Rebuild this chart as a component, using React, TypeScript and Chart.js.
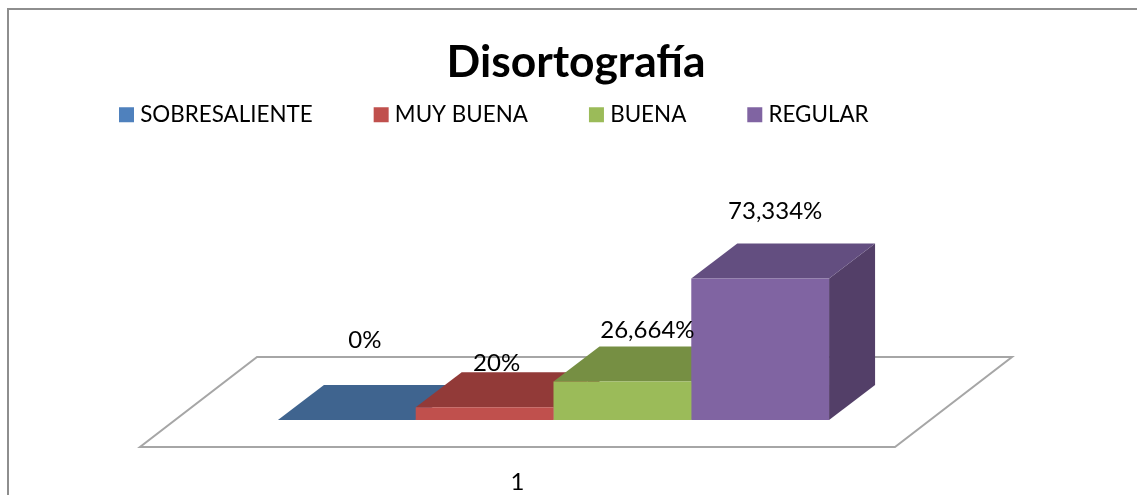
import React, { useEffect, useRef } from "react";
import { Chart, registerables } from "chart.js";

Chart.register(...registerables);

const categories = ["1"];
const seriesNames = ["SOBRESALIENTE", "MUY BUENA", "BUENA", "REGULAR"];
const seriesValues = [0, 6.667, 20, 73.334];
const valueLabels = ["0%", "20%", "26,664%", "73,334%"];
const titleText = "Disortografía";

const frontColors = ["#4F81BD", "#C0504D", "#9BBB59", "#8064A2"];
const topColors = ["#3F648F", "#923A38", "#768F43", "#634E80"];
const sideColors = ["#365678", "#7C302E", "#637939", "#533F68"];
const labelOffsets = [
  [18, -80],
  [12, -44],
  [25, -51],
  [15, -67],
];

const FONT = "Lato, Carlito, sans-serif";
const SHIFT = { x: 36, y: -27 };
const DEPTH = { x: 46, y: -35 };
const FLOOR = { x: 117, y: -90 };

const scene = {
  id: "scene",
  afterLayout(chart: any) {
    const t = chart.titleBlock;
    t.left = 0; t.right = 1152; t.top = 36; t.bottom = t.top + t.height;
    const l = chart.legend;
    const h = l.height;
    l.left = 58; l.right = 1137; l.top = 37.5; l.bottom = l.top + h;
  },
  beforeDraw(chart: any) {
    const { ctx, chartArea: a, width, height } = chart;
    ctx.save();
    ctx.fillStyle = "#FFFFFF";
    ctx.fillRect(0, 0, width, height);
    ctx.strokeStyle = "#8E8E8E";
    ctx.lineWidth = 2;
    ctx.strokeRect(8, 9, width + 20, height + 20);
    ctx.strokeStyle = "#A6A6A6";
    ctx.lineWidth = 2;
    ctx.beginPath();
    ctx.moveTo(a.left, a.bottom);
    ctx.lineTo(a.right, a.bottom);
    ctx.lineTo(a.right + FLOOR.x, a.bottom + FLOOR.y);
    ctx.lineTo(a.left + FLOOR.x, a.bottom + FLOOR.y);
    ctx.closePath();
    ctx.stroke();
    ctx.restore();
  },
  beforeDatasetsDraw(chart: any) {
    const { ctx } = chart;
    ctx.save();
    ctx.translate(SHIFT.x, SHIFT.y);
    seriesValues.forEach((_, i) => {
      const el = chart.getDatasetMeta(i).data[0];
      const l = el.x - el.width / 2;
      const r = el.x + el.width / 2;
      const top = el.y;
      const base = el.base;
      ctx.fillStyle = sideColors[i];
      ctx.beginPath();
      ctx.moveTo(r, top);
      ctx.lineTo(r + DEPTH.x, top + DEPTH.y);
      ctx.lineTo(r + DEPTH.x, base + DEPTH.y);
      ctx.lineTo(r, base);
      ctx.closePath();
      ctx.fill();
      ctx.fillStyle = topColors[i];
      ctx.beginPath();
      ctx.moveTo(l, top);
      ctx.lineTo(l + DEPTH.x, top + DEPTH.y);
      ctx.lineTo(r + DEPTH.x, top + DEPTH.y);
      ctx.lineTo(r, top);
      ctx.closePath();
      ctx.fill();
    });
  },
  afterDatasetsDraw(chart: any) {
    const { ctx } = chart;
    ctx.fillStyle = "#000000";
    ctx.font = `24px ${FONT}`;
    ctx.textAlign = "center";
    ctx.textBaseline = "middle";
    valueLabels.forEach((text, i) => {
      const el = chart.getDatasetMeta(i).data[0];
      ctx.fillText(text, el.x + labelOffsets[i][0], el.y + labelOffsets[i][1]);
    });
    ctx.restore();
  },
};

export default function App() {
  const ref = useRef<HTMLCanvasElement>(null);
  useEffect(() => {
    document.body.style.margin = "0";
    const chart = new Chart(ref.current as HTMLCanvasElement, {
      type: "bar",
      data: {
        labels: categories,
        datasets: seriesNames.map((name, i) => ({
          label: name,
          data: [seriesValues[i]],
          backgroundColor: frontColors[i],
          borderWidth: 0,
          clip: false as any,
        })),
      },
      options: {
        responsive: false,
        animation: false,
        datasets: { bar: { categoryPercentage: 0.73, barPercentage: 1 } },
        layout: { padding: { left: 140, right: 242, top: 14, bottom: 0 } },
        scales: {
          x: {
            grid: { display: false },
            border: { display: false },
            ticks: { color: "#000000", font: { family: FONT, size: 24 }, padding: 13 },
            afterFit: (s: any) => { s.height = 48; },
          },
          y: { display: false, min: 0, max: 100 },
        },
        plugins: {
          title: {
            display: true,
            text: titleText,
            color: "#000000",
            font: { family: FONT, size: 44.4, weight: "bold" },
            padding: 0,
          },
          legend: {
            display: true,
            position: "top",
            align: "start",
            labels: {
              color: "#000000",
              font: { family: FONT, size: 22.4 },
              usePointStyle: true,
              pointStyle: "rect",
              boxWidth: 5,
              boxHeight: 15,
              padding: 66,
            },
          },
          tooltip: { enabled: false },
        },
      },
      plugins: [scene],
    } as any);
    return () => chart.destroy();
  }, []);
  return <canvas ref={ref} width={1137} height={495} style={{ display: "block" }} />;
}
